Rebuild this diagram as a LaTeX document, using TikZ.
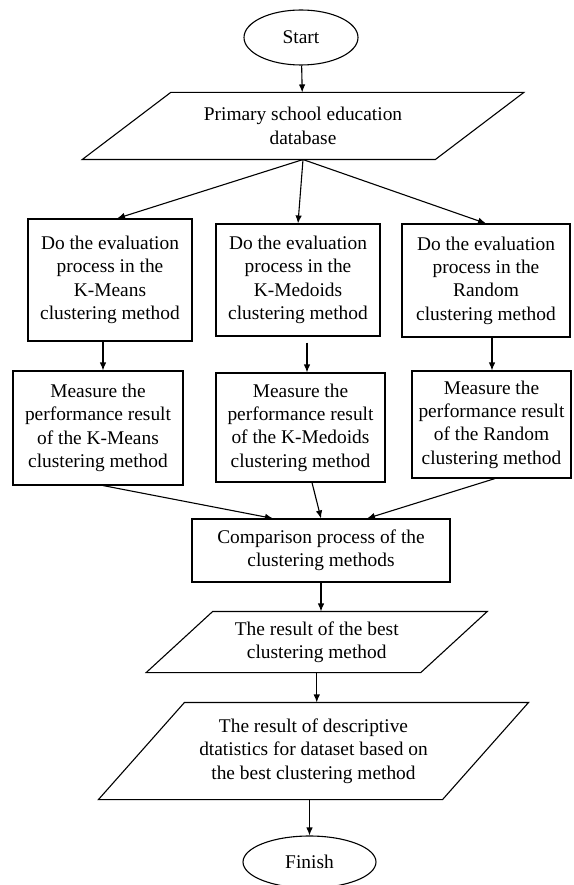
\documentclass[tikz,border=0pt]{standalone}
\usepackage{fontspec}
\setmainfont{Liberation Serif}
\usetikzlibrary{shapes.geometric}
\usetikzlibrary{arrows.meta}

\begin{document}
\begin{tikzpicture}[x=1pt, y=-1pt, line width=1.1pt,
    T/.style={draw, ellipse, inner sep=0pt, font=\fontsize{19.4}{23.3}\selectfont},
    B/.style={draw, rectangle, inner sep=0pt, align=center, font=\fontsize{19.4}{23.3}\selectfont},
    IO/.style={rectangle, inner sep=0pt, align=center, font=\fontsize{19.4}{23.3}\selectfont},
    A/.style={-{Latex[length=8pt,width=6.5pt]}}]
    \useasboundingbox (0,0) rectangle (573,885);
    \node[T, minimum width=114pt, minimum height=55pt] (start) at (301,37.5) {Start};
    \node[IO, minimum width=352pt, minimum height=66pt] (db) at (303,126) {Primary school education\\database};
    \node[B, minimum width=164pt, minimum height=122pt] (m1) at (110,280) {Do the evaluation\\process in the\\K-Means\\clustering method};
    \node[B, minimum width=164pt, minimum height=112pt] (m2) at (298,280) {Do the evaluation\\process in the\\K-Medoids\\clustering method};
    \node[B, minimum width=168pt, minimum height=113pt] (m3) at (486,280.5) {Do the evaluation\\process in the\\Random\\clustering method};
    \node[B, minimum width=170pt, minimum height=114pt] (p1) at (98,428) {Measure the\\performance result\\of the K-Means\\clustering method};
    \node[B, minimum width=169pt, minimum height=109pt] (p2) at (300.5,427.5) {Measure the\\performance result\\of the K-Medoids\\clustering method};
    \node[B, minimum width=159pt, minimum height=107pt] (p3) at (491.5,424.5) {Measure the\\performance result\\of the Random\\clustering method};
    \node[B, minimum width=258pt, minimum height=63pt] (cmp) at (321,550.5) {Comparison process of the\\clustering methods};
    \node[IO, minimum width=273.5pt, minimum height=60pt] (res) at (316.75,642) {The result of the best\\clustering method};
    \node[IO, minimum width=343pt, minimum height=96pt] (desc) at (313.5,751) {The result of descriptive\\dtatistics for dataset based on\\the best clustering method};
    \node[T, minimum width=133pt, minimum height=52pt] (finish) at (309.5,862) {Finish};
    % slanted data boxes
    \foreach \n/\s in {db/44.25, res/33.25, desc/43}
        \draw ([xshift=-\s pt]\n.south west) -- ([xshift=\s pt]\n.north west) -- ([xshift=\s pt]\n.north east) -- ([xshift=-\s pt]\n.south east) -- cycle;
    \draw[A] (start) -- (db);
    \draw[A] (db.south) -- ([xshift=7pt]m1.north);
    \draw[A] (db.south) -- (m2.north);
    \draw[A] (db.south) -- (m3.north);
    \draw[A] ([xshift=-7pt]m1.south) -- ([xshift=5pt]p1.north);
    \draw[A] ([xshift=9pt,yshift=-6pt]m2.south) -- ([xshift=6.5pt]p2.north);
    \draw[A] ([xshift=6pt]m3.south) -- ([xshift=0.5pt]p3.north);
    \draw[A] ([xshift=5pt]p1.south) -- ([xshift=-48pt]cmp.north);
    \draw[A] ([xshift=11.5pt]p2.south) -- (cmp.north);
    \draw[A] ([xshift=3.5pt]p3.south) -- ([xshift=46pt]cmp.north);
    \draw[A] (cmp.south) -- (cmp.south |- res.north);
    \draw[A] (res.south) -- (res.south |- desc.north);
    \draw[A] (finish.north |- desc.south) -- (finish.north);
\end{tikzpicture}
\end{document}
